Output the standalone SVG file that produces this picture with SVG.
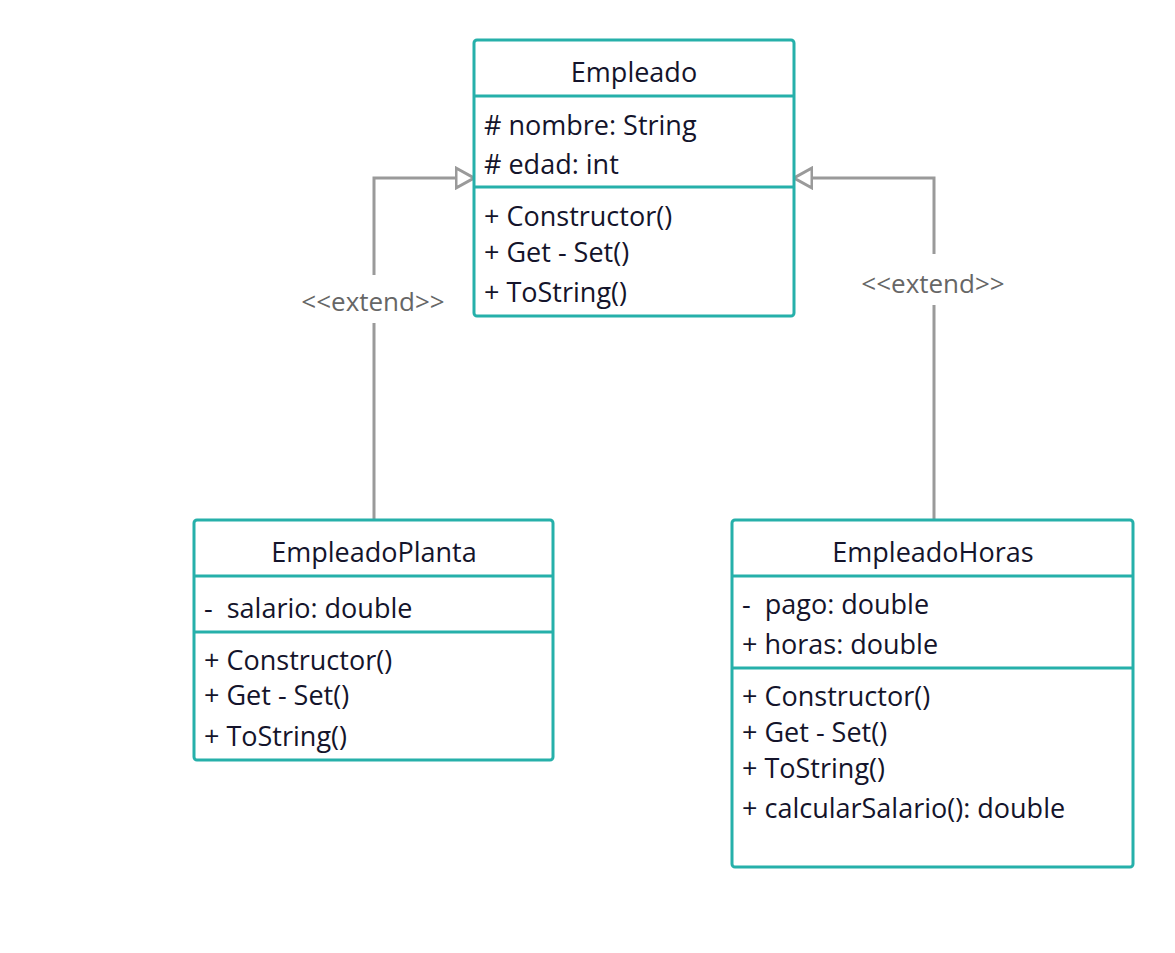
<svg xmlns="http://www.w3.org/2000/svg" width="1175" height="953" viewBox="0 0 1175 953">
<style>
.box{fill:#fff;stroke:#26b0aa;stroke-width:3}
.div{stroke:#26b0aa;stroke-width:3}
.t{font-family:"Open Sans","Noto Sans",sans-serif;font-size:27px;fill:#14142b}
.c{text-anchor:middle}
.lbl{font-family:"Open Sans","Noto Sans",sans-serif;font-size:26px;fill:#666;text-anchor:middle}
.con{fill:none;stroke:#9a9a9a;stroke-width:3}
</style>
<defs>
<marker id="tri" viewBox="0 0 20 24" refX="19" refY="12" markerWidth="20" markerHeight="24" markerUnits="userSpaceOnUse" orient="auto">
<path d="M1,2 L19,12 L1,22 Z" fill="#fff" stroke="#9a9a9a" stroke-width="3"/>
</marker>
</defs>
<rect width="1175" height="953" fill="#fff"/>
<g id="connectors">
<path class="con" d="M374,520 V323 M374,275 V178 H474" marker-end="url(#tri)"/>
<path class="con" d="M934,520 V305 M934,254 V178 H794" marker-end="url(#tri)"/>
<text class="lbl" x="373" y="311">&lt;&lt;extend&gt;&gt;</text>
<text class="lbl" x="933" y="293">&lt;&lt;extend&gt;&gt;</text>
</g>
<g id="Empleado">
<rect class="box" x="474" y="40" width="320" height="276" rx="3"/>
<line class="div" x1="474" y1="96" x2="794" y2="96"/>
<line class="div" x1="474" y1="187" x2="794" y2="187"/>
<text class="t c" x="634" y="82">Empleado</text>
<text class="t" x="484" y="135"># nombre: String</text>
<text class="t" x="484" y="174"># edad: int</text>
<text class="t" x="484" y="226">+ Constructor()</text>
<text class="t" x="484" y="262">+ Get - Set()</text>
<text class="t" x="484" y="302">+ ToString()</text>
</g>
<g id="EmpleadoPlanta">
<rect class="box" x="194" y="520" width="359" height="240" rx="3"/>
<line class="div" x1="194" y1="576" x2="553" y2="576"/>
<line class="div" x1="194" y1="632" x2="553" y2="632"/>
<text class="t c" x="374" y="562">EmpleadoPlanta</text>
<text class="t" x="204" y="618" xml:space="preserve">-  salario: double</text>
<text class="t" x="204" y="670">+ Constructor()</text>
<text class="t" x="204" y="705">+ Get - Set()</text>
<text class="t" x="204" y="746">+ ToString()</text>
</g>
<g id="EmpleadoHoras">
<rect class="box" x="732" y="520" width="401" height="347" rx="3"/>
<line class="div" x1="732" y1="576" x2="1133" y2="576"/>
<line class="div" x1="732" y1="668" x2="1133" y2="668"/>
<text class="t c" x="933" y="562">EmpleadoHoras</text>
<text class="t" x="742" y="614" xml:space="preserve">-  pago: double</text>
<text class="t" x="742" y="654">+ horas: double</text>
<text class="t" x="742" y="706">+ Constructor()</text>
<text class="t" x="742" y="742">+ Get - Set()</text>
<text class="t" x="742" y="778">+ ToString()</text>
<text class="t" x="742" y="818">+ calcularSalario(): double</text>
</g>
</svg>
